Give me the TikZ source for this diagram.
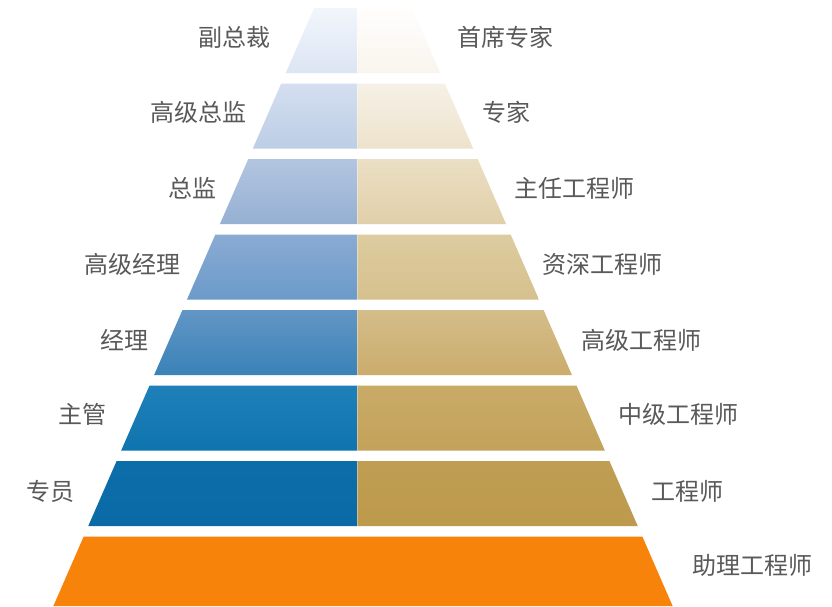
\documentclass[tikz,border=0pt]{standalone}
\usepackage{fontspec}
\newfontfamily\cjk{Noto Sans CJK SC}
\definecolor{txtgray}{HTML}{595959}
\definecolor{orangeband}{HTML}{F7830A}
% left (blue) colours, top/bottom of each band
\definecolor{LaT}{HTML}{F2F6FC}\definecolor{LaB}{HTML}{DCE5F3}
\definecolor{LbT}{HTML}{D4DFF0}\definecolor{LbB}{HTML}{BCCDE5}
\definecolor{LcT}{HTML}{B3C5E0}\definecolor{LcB}{HTML}{95B0D3}
\definecolor{LdT}{HTML}{8AABD3}\definecolor{LdB}{HTML}{6B9ACA}
\definecolor{LeT}{HTML}{6296C5}\definecolor{LeB}{HTML}{3A82B8}
\definecolor{LfT}{HTML}{1F80B9}\definecolor{LfB}{HTML}{0F74AE}
\definecolor{LgT}{HTML}{0C6EA9}\definecolor{LgB}{HTML}{0A6AA6}
% right (gold) colours
\definecolor{RaT}{HTML}{FFFEFD}\definecolor{RaB}{HTML}{F9F5EE}
\definecolor{RbT}{HTML}{F6F1E6}\definecolor{RbB}{HTML}{EDE2CC}
\definecolor{RcT}{HTML}{EBDFC4}\definecolor{RcB}{HTML}{E0CFA9}
\definecolor{RdT}{HTML}{DCCCA0}\definecolor{RdB}{HTML}{D6C08E}
\definecolor{ReT}{HTML}{D4BD8A}\definecolor{ReB}{HTML}{CBAC6C}
\definecolor{RfT}{HTML}{C9AB68}\definecolor{RfB}{HTML}{C3A25A}
\definecolor{RgT}{HTML}{BF9D52}\definecolor{RgB}{HTML}{BD9A4C}
\newcommand\pyrband[6]{%
  % #1 top y, #2 bottom y, #3 left top, #4 left bottom, #5 right top, #6 right bottom
  \shade[top color=#3,bottom color=#4]
    ({317.6-0.436*#1},#1) -- (357.5,#1) -- (357.5,#2) -- ({317.6-0.436*#2},#2) -- cycle;
  \shade[top color=#5,bottom color=#6]
    (357.5,#1) -- ({408.4+0.436*#1},#1) -- ({408.4+0.436*#2},#2) -- (357.5,#2) -- cycle;
  \draw[white,opacity=0.35,line width=1pt] (357.5,#1) -- (357.5,#2);
}
\begin{document}
\begin{tikzpicture}[x=1pt,y=-1pt,
  lbl/.style={inner sep=0pt,text=txtgray,font=\cjk\fontsize{24}{28}\selectfont},
  lleft/.style={lbl,anchor=east},
  lright/.style={lbl,anchor=west}]
\useasboundingbox (0,0) rectangle (832,606);
\fill[white] (0,0) rectangle (832,606);
\pyrband{8}{73}{LaT}{LaB}{RaT}{RaB}
\pyrband{83.5}{148.5}{LbT}{LbB}{RbT}{RbB}
\pyrband{159}{224}{LcT}{LcB}{RcT}{RcB}
\pyrband{234.5}{299.5}{LdT}{LdB}{RdT}{RdB}
\pyrband{310}{375}{LeT}{LeB}{ReT}{ReB}
\pyrband{385.5}{450.5}{LfT}{LfB}{RfT}{RfB}
\pyrband{461}{526}{LgT}{LgB}{RgT}{RgB}
\fill[orangeband] ({317.6-0.436*536.5},536.5) -- ({408.4+0.436*536.5},536.5)
  -- ({408.4+0.436*606},606) -- ({317.6-0.436*606},606) -- cycle;
% left labels
\node[lleft] (l1) at (271,37.5) {副总裁};
\node[lleft] (l2) at (247,112.5) {高级总监};
\node[lleft] (l3) at (217,188.5) {总监};
\node[lleft] (l4) at (181,264.5) {高级经理};
\node[lleft] (l5) at (149,340) {经理};
\node[lleft] (l6) at (107,414.5) {主管};
\node[lleft] (l7) at (75,491) {专员};
% right labels
\node[lright] (r1) at (457,37.5) {首席专家};
\node[lright] (r2) at (482,112.5) {专家};
\node[lright] (r3) at (514,188.5) {主任工程师};
\node[lright] (r4) at (542,264.5) {资深工程师};
\node[lright] (r5) at (581,340) {高级工程师};
\node[lright] (r6) at (618,414.5) {中级工程师};
\node[lright] (r7) at (651,491) {工程师};
\node[lright] (r8) at (692,565) {助理工程师};
\end{tikzpicture}
\end{document}
